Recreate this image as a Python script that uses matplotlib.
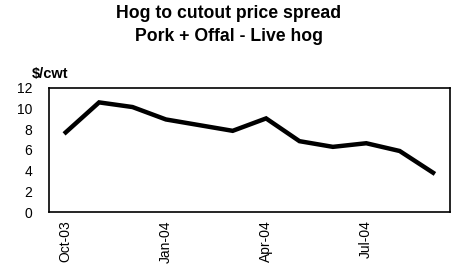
import matplotlib
matplotlib.use("Agg")
import matplotlib.pyplot as plt

plt.rcParams['font.family'] = ['Liberation Sans', 'DejaVu Sans']

months = ["Oct-03", "Nov-03", "Dec-03", "Jan-04", "Feb-04", "Mar-04",
          "Apr-04", "May-04", "Jun-04", "Jul-04", "Aug-04", "Sep-04"]
spread = [7.7, 10.6, 10.15, 8.95, 8.4, 7.85, 9.05, 6.85, 6.3, 6.65, 5.9, 3.8]
tick_labels = ["Oct-03", "Jan-04", "Apr-04", "Jul-04"]
tick_idx = [0, 3, 6, 9]

fig = plt.figure(figsize=(4.58, 2.73), dpi=100)
ax = fig.add_axes([0.107, 0.2234, 0.875, 0.4546])
x = list(range(len(months)))
ax.plot(x, spread, color='black', lw=3.2, solid_joinstyle='miter')
ax.set_xlim(-0.5, len(months) - 0.5)
ax.set_ylim(0, 12)
ax.set_yticks(range(0, 13, 2))
ax.set_xticks(tick_idx)
ax.set_xticklabels(tick_labels, rotation=90, fontsize=10)
ax.tick_params(axis='both', length=0, labelsize=10, pad=6)
ax.tick_params(axis='y', pad=12)
for s in ax.spines.values():
    s.set_linewidth(1.2)
fig.text(0.5, 0.95, "Hog to cutout price spread", ha='center', va='center',
         fontsize=12.7, fontweight='bold')
fig.text(0.5, 0.866, "Pork + Offal - Live hog", ha='center', va='center',
         fontsize=12.7, fontweight='bold')
fig.text(0.07, 0.729, "$/cwt", ha='left', va='center', fontsize=10.5, fontweight='bold')
fig.savefig("out.png", dpi=100)
